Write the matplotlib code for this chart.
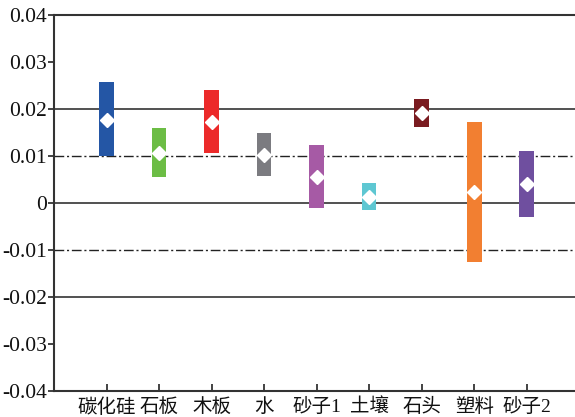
import numpy as np
import matplotlib
matplotlib.use("Agg")
import matplotlib.pyplot as plt

plt.rcParams['font.family'] = ['Liberation Serif', 'Noto Sans CJK SC']

# data
categories = ['碳化硅', '石板', '木板', '水', '砂子1', '土壤', '石头', '塑料', '砂子2']
upper = [0.0257, 0.0160, 0.0240, 0.0149, 0.0123, 0.0043, 0.0221, 0.0172, 0.0111]
lower = [0.0100, 0.0055, 0.0106, 0.0057, -0.0011, -0.0014, 0.0162, -0.0126, -0.0030]
mean = [0.0177, 0.0107, 0.0172, 0.0102, 0.0055, 0.0013, 0.0191, 0.0023, 0.0040]
colors = ['#2456a5', '#6cbd45', '#ec2a2a', '#7b7b80', '#a65aa5',
          '#5ec7d2', '#7a1b20', '#f27f31', '#6f4f9f']

yticks = [-0.04, -0.03, -0.02, -0.01, 0, 0.01, 0.02, 0.03, 0.04]
ytick_labels = ['-0.04', '-0.03', '-0.02', '-0.01', '0', '0.01', '0.02', '0.03', '0.04']
solid_lines = [0.02, 0, -0.02]
dashdot_lines = [0.01, -0.01]

fig = plt.figure(figsize=(5.75, 4.17), dpi=100)
ax = fig.add_axes([0.094, 0.062, 0.906, 0.902])

x = np.arange(1, len(categories) + 1)
height = np.array(upper) - np.array(lower)

for y in solid_lines:
    ax.axhline(y, color='#333333', lw=1.2, zorder=1)
for y in dashdot_lines:
    ax.axhline(y, color='#222222', lw=1.0, ls=(0, (7, 2, 1.5, 2)), zorder=1)

ax.bar(x, height, bottom=lower, width=0.28, color=colors, zorder=2)
ax.plot(x, mean, 'D', color='white', markersize=7.5, zorder=3)

ax.set_xlim(0, 9.92)
ax.set_ylim(-0.04, 0.04)
ax.set_xticks(x)
ax.set_xticklabels(categories, fontsize=14)
ax.set_yticks(yticks)
ax.set_yticklabels(ytick_labels, fontsize=15.5)

ax.tick_params(axis='x', direction='in', length=5, width=1.2, pad=5, colors='#222222')
ax.tick_params(axis='y', direction='out', length=4, width=1.2, pad=1, colors='#222222')
for lab in ax.get_xticklabels() + ax.get_yticklabels():
    lab.set_color('#111111')

ax.spines['right'].set_visible(False)
for s in ['left', 'bottom', 'top']:
    ax.spines[s].set_linewidth(1.5)
    ax.spines[s].set_color('#333333')

fig.savefig('out.png', dpi=100)
